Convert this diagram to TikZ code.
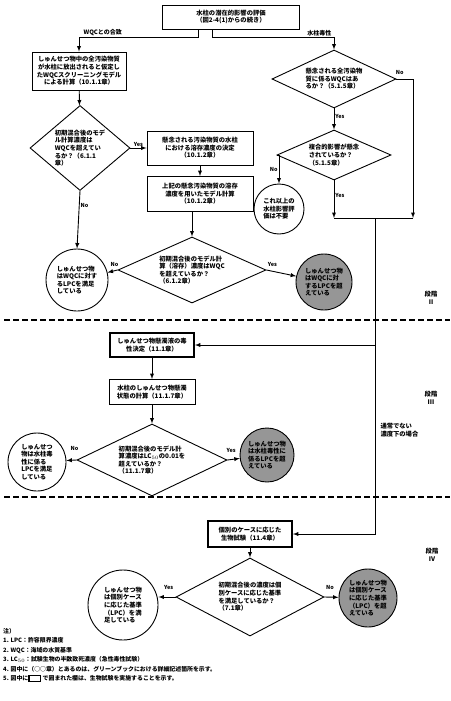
\documentclass[tikz,border=0pt]{standalone}
\usepackage{fontspec}
\setmainfont{Noto Sans CJK JP}
\usetikzlibrary{arrows}
\usetikzlibrary{shapes.geometric}
\definecolor{qgray}{RGB}{150,150,150}
\newcommand{\bioframe}{{\setlength{\fboxrule}{1.2pt}\setlength{\fboxsep}{0pt}\framebox[13pt]{\rule{0pt}{5pt}}}}

\tikzset{
txt/.style={font=\fontsize{6.3}{7.6}\selectfont\bfseries},
procbox/.style={txt, draw, line width=0.9pt, rectangle, align=center, inner sep=1pt},
testbox/.style={procbox, line width=1.8pt},
query/.style={txt, draw, line width=0.9pt, diamond, align=left, inner sep=0pt},
outcome/.style={txt, draw, line width=0.9pt, circle, align=left, inner sep=0pt},
exceed/.style={outcome, fill=qgray},
flow/.style={-latex, line width=0.9pt},
lbl/.style={font=\fontsize{5.5}{6.5}\selectfont\bfseries, inner sep=1pt},
branchlbl/.style={font=\fontsize{6}{7}\selectfont\bfseries, inner sep=1pt},
tierline/.style={line width=1.1pt, dash pattern=on 6pt off 3pt}
}

\begin{document}
\begin{tikzpicture}[x=1pt,y=-1pt]
\useasboundingbox (0,0) rectangle (450,701);
\node[procbox, minimum width=137, minimum height=24] (eval) at (231,17) {水柱の潜在的影響の評価\\（図2-4(1)からの続き）};
\node[procbox, minimum width=94, minimum height=38] (screen) at (79,71) {しゅんせつ物中の全汚染物質\\が水柱に放出されると仮定し\\たWQCスクリーニングモデル\\による計算（10.1.1章）};
\node[query, aspect=1.2, minimum width=100, minimum height=85] (mix) at (80,148) {初期混合後のモデ\\ル計算濃度は\\WQCを超えてい\\るか？（6.1.1\\章）};
\node[procbox, minimum width=106, minimum height=34] (dissolved) at (200,148) {懸念される汚染物質の水柱\\における溶存濃度の決定\\（10.1.2章）};
\node[procbox, minimum width=106, minimum height=35] (model) at (200,194) {上記の懸念汚染物質の溶存\\濃度を用いたモデル計算\\（10.1.2章）};
\node[query, aspect=2.2, minimum width=148, minimum height=66] (mixdis) at (192,270) {初期混合後のモデル計\\算（溶存）濃度はWQC\\を超えているか？\\（6.1.2章）};
\node[outcome, minimum size=62] (wqcok) at (77,280) {しゅんせつ物\\はWQCに対す\\るLPCを満足\\している};
\node[exceed, minimum size=56] (wqcover) at (324,282) {しゅんせつ物\\はWQCに対\\するLPCを超\\えている};
\node[query, aspect=2.1, minimum width=124, minimum height=58] (haswqc) at (334,79) {懸念される全汚染物\\質に係るWQCはあ\\るか？（5.1.5章）};
\node[query, aspect=2.2, minimum width=114, minimum height=50] (combined) at (334,155) {複合的影響が懸念\\されているか？\\（5.1.5章）};
\node[outcome, minimum size=50] (noneed) at (279,209) {これ以上の\\水柱影響評\\価は不要};
\coordinate (jl) at (334,218);
\coordinate (jr) at (413,218);
\coordinate (jm) at (375,218);

\node[testbox, minimum width=84, minimum height=24] (spp) at (152,345) {しゅんせつ物懸濁液の毒\\性決定（11.1章）};
\node[procbox, minimum width=86, minimum height=25] (mixcalc) at (152,392) {水柱のしゅんせつ物懸濁\\状態の計算（11.1.7章）};
\node[query, aspect=2, minimum width=150, minimum height=72] (lc) at (152,460) {初期混合後のモデル計\\算濃度はLC$_{50}$の0.01を\\超えているか？\\（11.1.7章）};
\node[outcome, minimum size=58] (toxok) at (37,462) {しゅんせつ\\物は水柱毒\\性に係る\\LPCを満足\\している};
\node[exceed, minimum size=54] (toxover) at (267,455) {しゅんせつ物\\は水柱毒性に\\係るLPCを超\\えている};
\node[txt, align=left, anchor=west] (unusual) at (377,430) {通常でない\\濃度下の場合};

\node[testbox, minimum width=84, minimum height=26] (bio) at (250,534) {個別のケースに応じた\\生物試験（11.4章）};
\node[query, aspect=1.9, minimum width=148, minimum height=78] (casecrit) at (250,597) {初期混合後の濃度は個\\別ケースに応じた基準\\を満足しているか？\\（7.1章）};
\node[outcome, minimum size=70] (caseok) at (123,605) {しゅんせつ物\\は個別ケース\\に応じた基準\\（LPC）を満\\足している};
\node[exceed, minimum size=58] (caseover) at (368,598) {しゅんせつ物\\は個別ケース\\に応じた基準\\（LPC）を超\\えている};

\node[txt, align=center] (tier2) at (431,298) {段階\\II};
\node[txt, align=center] (tier3) at (431,398) {段階\\III};
\node[txt, align=center] (tier4) at (432,555) {段階\\IV};
\draw[tierline] (4,320) -- (450,320);
\draw[tierline] (4,497) -- (450,497);

\draw[flow] ([xshift=-33pt]eval.south) -- ++(0,8) -| node[branchlbl, above, pos=0.4] {WQCとの合致} (screen.north);
\draw[flow] ([xshift=-19pt]eval.south) -- ++(0,8) -| node[branchlbl, above, pos=0.44] {水柱毒性} (haswqc.north);
\draw[flow] (screen) -- (mix);
\draw[flow] (mix.east) -- node[lbl, above] {Yes} (dissolved.west);
\draw[flow] (dissolved) -- (model);
\draw[flow] (model.south -| mixdis.north) -- (mixdis.north);
\draw[flow] (mix.south) -- node[lbl, right, pos=0.25] {No} (wqcok.north);
\draw[flow] (mixdis.west) -- node[lbl, above=3pt, pos=0.3] {No} (wqcok);
\draw[flow] (mixdis.east) -- node[lbl, above=3pt, pos=0.2] {Yes} (wqcover);
\draw[flow] (haswqc.south) -- node[lbl, right, pos=0.4] {Yes} (combined.north);
\draw[flow] (haswqc.east) -| node[lbl, above=3pt, pos=0.1] {No} (jr);
\draw[flow] (combined.west) -| node[lbl, left, pos=0.75] {No} (noneed.north);
\draw[flow] (combined.south) -- node[lbl, right, pos=0.4] {Yes} (jl);
\draw[line width=0.9pt] (jl) -- (jr);
\draw[flow] (jm) |- (bio.east);
\draw[flow] (jm |- spp.east) -- (spp.east);

\draw[flow] (spp) -- (mixcalc);
\draw[flow] (mixcalc) -- (lc);
\draw[flow] (lc.west) -- node[lbl, above=8pt, pos=0.2] {No} (toxok);
\draw[flow] (lc.east) -- node[lbl, above=6pt, pos=0.3] {Yes} (toxover);
\draw[flow] (bio) -- (casecrit);
\draw[flow] (casecrit.west) -- node[lbl, above=6pt, pos=0.4] {Yes} (casecrit.west -| caseok.east);
\draw[flow] (casecrit.east) -- node[lbl, above=6pt, pos=0.4] {No} (caseover);

\node[font=\fontsize{5.9}{9.5}\selectfont\bfseries, align=left, anchor=north west, inner sep=0pt] (notes) at (3,628) {注）\\1. LPC：許容限界濃度\\2. WQC：海域の水質基準\\3. LC$_{50}$：試験生物の半数致死濃度（急性毒性試験）\\4. 図中に（○○章）とあるのは、グリーンブックにおける詳細記述箇所を示す。\\5. 図中に\bioframe\ で囲まれた欄は、生物試験を実施することを示す。};
\end{tikzpicture}
\end{document}
